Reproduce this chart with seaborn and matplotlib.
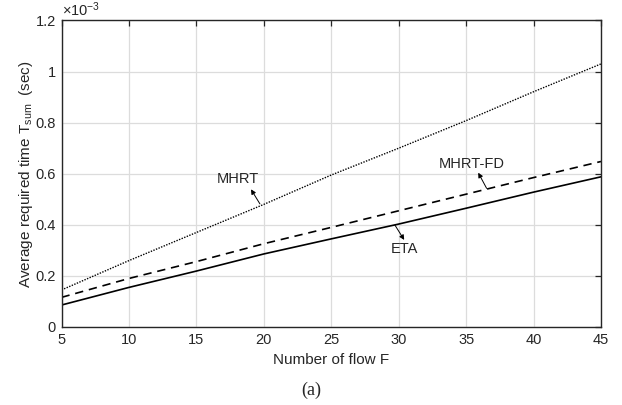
import matplotlib
matplotlib.use("Agg")
import matplotlib.pyplot as plt
from matplotlib.ticker import FuncFormatter
import seaborn as sns
import pandas as pd

# Number of flows
flows = [5, 10, 15, 20, 25, 30, 35, 40, 45]
# Average required time T_sum (sec)
mhrt = [0.145e-3, 0.260e-3, 0.370e-3, 0.480e-3, 0.595e-3, 0.700e-3, 0.808e-3, 0.921e-3, 1.030e-3]
mhrt_fd = [0.116e-3, 0.190e-3, 0.256e-3, 0.326e-3, 0.390e-3, 0.455e-3, 0.520e-3, 0.585e-3, 0.648e-3]
eta = [0.086e-3, 0.155e-3, 0.219e-3, 0.286e-3, 0.345e-3, 0.403e-3, 0.465e-3, 0.528e-3, 0.588e-3]

sns.set_style("white")
plt.rcParams["font.family"] = ["Liberation Sans", "DejaVu Sans"]
plt.rcParams["mathtext.fontset"] = "custom"
plt.rcParams["mathtext.rm"] = "Liberation Sans"
plt.rcParams["mathtext.it"] = "Liberation Sans:italic"

df = pd.DataFrame({"F": flows, "MHRT": mhrt, "MHRT-FD": mhrt_fd, "ETA": eta})

fig = plt.figure(figsize=(6.22, 4.05), dpi=100)
ax = fig.add_axes([0.0989, 0.1926, 0.8673, 0.7568])

sns.lineplot(data=df, x="F", y="MHRT", ax=ax, color="black", lw=1.0,
             linestyle=(0, (1, 1)))
sns.lineplot(data=df, x="F", y="MHRT-FD", ax=ax, color="black", lw=1.2,
             linestyle=(0, (5, 3.5)))
sns.lineplot(data=df, x="F", y="ETA", ax=ax, color="black", lw=1.2,
             linestyle="-")

ax.set_xlim(5, 45)
ax.set_ylim(0, 1.2e-3)
ax.set_xticks(range(5, 46, 5))
ax.set_yticks([i * 0.2e-3 for i in range(7)])
ax.yaxis.set_major_formatter(FuncFormatter(lambda v, p: f"{v * 1e3:g}"))
ax.grid(True, color="#dcdcdc", lw=0.9)
ax.set_axisbelow(True)
for s in ax.spines.values():
    s.set_color("#262626")
    s.set_linewidth(1.0)
ax.tick_params(direction="in", length=4.5, width=0.9, top=True, right=True,
               labelsize=10.5, colors="#262626", pad=4)
for lab in ax.get_xticklabels() + ax.get_yticklabels():
    lab.set_color("#262626")

ax.set_xlabel("Number of flow F", fontsize=11, color="#262626", labelpad=5)
ax.set_ylabel(r"Average required time T$_{\mathrm{sum}}$  (sec)", fontsize=11,
              color="#262626", labelpad=0.5)

ax.text(0.0, 1.004, r"$\times$10$^{\mathrm{-3}}$", transform=ax.transAxes,
        fontsize=10.5, color="#262626", ha="left", va="bottom")

arrow = dict(arrowstyle="-|>", color="black", lw=0.7, mutation_scale=7,
             shrinkA=0, shrinkB=0)
ax.annotate("", xy=(19.05, 0.539e-3), xytext=(19.71, 0.482e-3), arrowprops=arrow)
ax.text(18.1, 0.581e-3, "MHRT", fontsize=10.5, ha="center", va="center")
ax.annotate("", xy=(35.9, 0.604e-3), xytext=(36.52, 0.543e-3), arrowprops=arrow)
ax.text(35.41, 0.638e-3, "MHRT-FD", fontsize=10.5, ha="center", va="center")
ax.annotate("", xy=(30.41, 0.341e-3), xytext=(29.72, 0.399e-3), arrowprops=arrow)
ax.text(30.41, 0.304e-3, "ETA", fontsize=10.5, ha="center", va="center")

fig.text(0.5, 0.037, "(a)", fontsize=13, ha="center", va="center",
         family=["Liberation Serif", "DejaVu Serif"])

fig.savefig("out.png", dpi=100)
